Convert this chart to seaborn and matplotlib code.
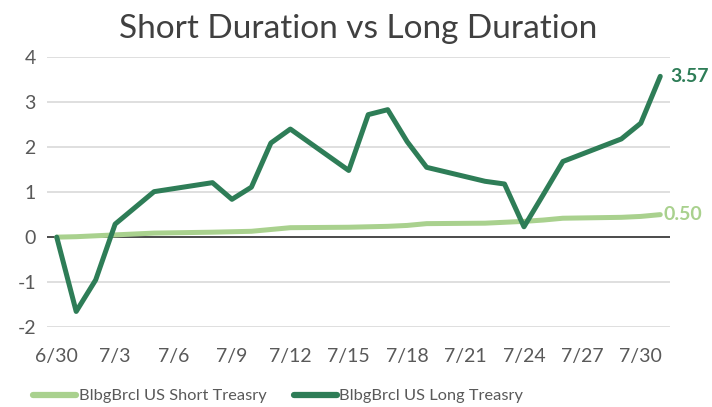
import numpy as np
import pandas as pd
import seaborn as sns
import matplotlib.pyplot as plt
import matplotlib.dates as mdates

dates = ['2019-06-30', '2019-07-01', '2019-07-02', '2019-07-03', '2019-07-05',
         '2019-07-08', '2019-07-09', '2019-07-10', '2019-07-11', '2019-07-12',
         '2019-07-15', '2019-07-16', '2019-07-17', '2019-07-18', '2019-07-19',
         '2019-07-22', '2019-07-23', '2019-07-24', '2019-07-25', '2019-07-26',
         '2019-07-29', '2019-07-30', '2019-07-31']
short_tsy = [0.00, 0.01, 0.03, 0.05, 0.09, 0.11, 0.12, 0.13, 0.17, 0.21,
             0.22, 0.23, 0.24, 0.26, 0.30, 0.31, 0.33, 0.35, 0.38, 0.42,
             0.44, 0.46, 0.50]
long_tsy = [0.00, -1.65, -0.95, 0.29, 1.01, 1.21, 0.84, 1.11, 2.09, 2.40,
            1.48, 2.72, 2.83, 2.12, 1.55, 1.24, 1.18, 0.23, 0.95, 1.68,
            2.18, 2.53, 3.57]
names = ['BlbgBrcl US Short Treasry', 'BlbgBrcl US Long Treasry']

df = pd.DataFrame({'date': pd.to_datetime(dates), names[0]: short_tsy, names[1]: long_tsy})
df = df.melt(id_vars='date', var_name='series', value_name='value')

sns.set_style('white')
plt.rcParams['font.family'] = ['Lato', 'DejaVu Sans']
plt.rcParams['axes.unicode_minus'] = False

light = '#A9D18E'
dark = '#2E7D57'
fig, ax = plt.subplots(figsize=(7.12, 4.07), dpi=100)
fig.subplots_adjust(left=0.066, right=0.941, top=0.86, bottom=0.196)

ax.axhline(0, color='#404040', lw=1.3, zorder=1)
sns.lineplot(data=df, x='date', y='value', hue='series', palette=[light, dark],
             linewidth=3.6, ax=ax, zorder=3)

ax.set_ylim(-2, 4)
ax.set_yticks(range(-2, 5))
start = pd.Timestamp('2019-06-30')
end = pd.Timestamp('2019-07-31')
ax.set_xlim(start - pd.Timedelta(hours=12), end + pd.Timedelta(hours=12))
ax.set_xticks(pd.date_range(start, periods=11, freq='3D'))
ax.xaxis.set_major_formatter(mdates.DateFormatter('%-m/%-d'))
ax.grid(axis='y', color='#D9D9D9', lw=1.2)
ax.set_axisbelow(True)
for s in ax.spines.values():
    s.set_visible(False)
ax.tick_params(colors='#595959', labelsize=14, length=0)
ax.tick_params(axis='x', pad=15)
ax.tick_params(axis='y', pad=8)
ax.set_xlabel('')
ax.set_ylabel('')

ax.set_title('Short Duration vs Long Duration', fontsize=24, color='#404040', pad=14)

ax.text(end + pd.Timedelta(hours=13), long_tsy[-1], f'{long_tsy[-1]:.2f}',
        color=dark, fontsize=14, fontweight='bold', va='center', ha='left')
ax.text(end + pd.Timedelta(hours=4), short_tsy[-1], f'{short_tsy[-1]:.2f}',
        color=light, fontsize=14, fontweight='bold', va='center', ha='left')

leg = ax.legend(loc='center left', bbox_to_anchor=(0.047, 0.027), bbox_transform=fig.transFigure,
                ncol=2, frameon=False, fontsize=11.8, handlelength=2.6, columnspacing=1.7,
                handletextpad=0.15, borderaxespad=0, borderpad=0)
for t in leg.get_texts():
    t.set_color('#595959')
for h in leg.get_lines():
    h.set_linewidth(4.5)
    h.set_solid_capstyle('round')

fig.savefig('out.png')
